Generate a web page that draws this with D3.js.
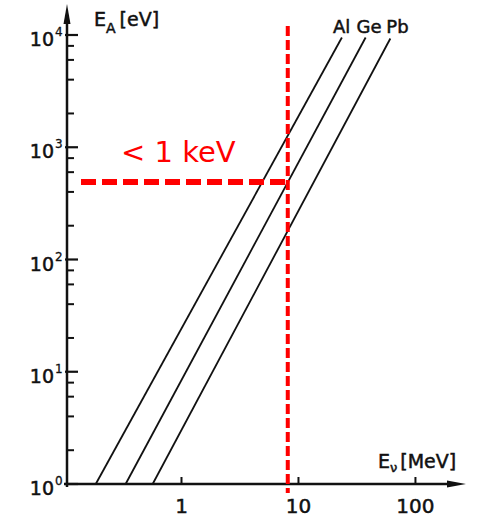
<!DOCTYPE html>
<html>
<head>
<meta charset="utf-8">
<script src="https://cdn.jsdelivr.net/npm/d3@7"></script>
<style>
  body { margin: 0; background: #fff; }
  text { font-family: "DejaVu Sans", sans-serif; fill: #111; }
  .ink { stroke: #111; stroke-width: 0.5; }
</style>
</head>
<body>
<div id="graph"></div>
<script>
// materiais e pontos extremos de cada reta (E_nu em MeV, E_A em eV)
const materials = ["Al", "Ge", "Pb"];
const nuStart = [0.185, 0.333, 0.567];
const nuEnd = [23.5, 37.5, 61];
const recoilStart = [1, 1, 1];
const recoilEnd = [9500, 9500, 9300];

const xTicks = [1, 10, 100];
const xTickLabels = ["1", "10", "100"];
const yTicks = [1, 10, 100, 1000, 10000];
const yTickExp = ["0", "1", "2", "3", "4"];
const yMinor = [2, 4, 6, 8];

// marcação em vermelho
const markNu = 8.1;
const markRecoil = 490;
const markLabel = "< 1 keV";

const width = 477, height = 519;

const svg = d3.select('#graph')
    .append('svg')
    .attr('width', width)
    .attr('height', height);

const x = d3.scaleLog().domain([0.105, 250]).range([67, 462]);
const y = d3.scaleLog().domain([1, 10000]).range([484, 35]);

const axisColor = '#111';

// eixo y com seta
svg.append('line')
    .attr('x1', x(0.105)).attr('y1', y(1) + 3)
    .attr('x2', x(0.105)).attr('y2', 20)
    .attr('stroke', axisColor).attr('stroke-width', 2.5);
svg.append('path')
    .attr('d', `M${x(0.105)},4 L${x(0.105) - 3.5},24 L${x(0.105) + 3.5},24 Z`)
    .attr('fill', axisColor);

// eixo x com seta
svg.append('line')
    .attr('x1', x(0.105) - 3).attr('y1', y(1))
    .attr('x2', 450).attr('y2', y(1))
    .attr('stroke', axisColor).attr('stroke-width', 2.5);
svg.append('path')
    .attr('d', `M466,${y(1)} L447,${y(1) - 3.5} L447,${y(1) + 3.5} Z`)
    .attr('fill', axisColor);

// ticks do eixo y (maiores e menores)
const yMinorVals = [];
yTicks.slice(0, -1).forEach(t => yMinor.forEach(m => yMinorVals.push(t * m)));

svg.append('g')
    .selectAll('line')
    .data(yTicks)
    .join('line')
    .attr('x1', x(0.105) - 2).attr('x2', x(0.105) + 11)
    .attr('y1', d => y(d)).attr('y2', d => y(d))
    .attr('stroke', axisColor).attr('stroke-width', 2.2);

svg.append('g')
    .selectAll('line')
    .data(yMinorVals)
    .join('line')
    .attr('x1', x(0.105)).attr('x2', x(0.105) + 7)
    .attr('y1', d => y(d)).attr('y2', d => y(d))
    .attr('stroke', axisColor).attr('stroke-width', 2);

const yLab = svg.append('g')
    .selectAll('g')
    .data(yTicks)
    .join('g');
yLab.append('text')
    .attr('class', 'ink')
    .attr('x', 54).attr('y', d => y(d) + 11)
    .attr('text-anchor', 'end')
    .attr('font-size', 19)
    .text('10');
yLab.append('text')
    .attr('class', 'ink')
    .attr('x', 55).attr('y', d => y(d) + 1)
    .attr('font-size', 12)
    .style('stroke-width', 0.3)
    .text((d, i) => yTickExp[i]);

// ticks do eixo x
svg.append('g')
    .selectAll('line')
    .data(xTicks)
    .join('line')
    .attr('x1', d => x(d)).attr('x2', d => x(d))
    .attr('y1', y(1)).attr('y2', y(1) - 7)
    .attr('stroke', axisColor).attr('stroke-width', 2);

svg.append('g')
    .selectAll('text')
    .data(xTicks)
    .join('text')
    .attr('class', 'ink')
    .attr('x', d => x(d)).attr('y', 513)
    .attr('text-anchor', 'middle')
    .attr('font-size', 20)
    .text((d, i) => xTickLabels[i]);

// títulos dos eixos
const yTitle = svg.append('text').attr('class', 'ink')
    .attr('x', 94).attr('y', 26).attr('font-size', 19);
yTitle.append('tspan').text('E');
yTitle.append('tspan').attr('font-size', 14).attr('dy', 7).text('A');
yTitle.append('tspan').attr('dy', -7).attr('dx', 4).text('[eV]');

const xTitle = svg.append('text').attr('class', 'ink')
    .attr('x', 378).attr('y', 468).attr('font-size', 19);
xTitle.append('tspan').text('E');
xTitle.append('tspan').attr('font-size', 13).attr('dy', 4).text('ν');
xTitle.append('tspan').attr('dy', -4).attr('dx', 3).text('[MeV]');

// retas de cada material
const lines = materials.map((m, i) => ({
    name: m,
    pts: [[nuStart[i], recoilStart[i]], [nuEnd[i], recoilEnd[i]]]
}));

const lineGen = d3.line().x(d => x(d[0])).y(d => y(d[1]));

svg.append('g')
    .selectAll('path')
    .data(lines)
    .join('path')
    .attr('d', d => lineGen(d.pts))
    .attr('fill', 'none')
    .attr('stroke', '#111')
    .attr('stroke-width', 1.8);

// rótulos no topo das retas (deslocados um pouco à esquerda)
const labelShift = [-9, -9, -4];
svg.append('g')
    .selectAll('text')
    .data(lines)
    .join('text')
    .attr('class', 'ink')
    .attr('x', (d, i) => x(d.pts[1][0]) + labelShift[i])
    .attr('y', 33)
    .attr('font-size', 18)
    .text(d => d.name);

// linhas vermelhas tracejadas
const red = '#ff0000';
svg.append('line')
    .attr('x1', x(markNu)).attr('x2', x(markNu))
    .attr('y1', 26).attr('y2', 493)
    .attr('stroke', red).attr('stroke-width', 4)
    .attr('stroke-dasharray', '10,4');

svg.append('line')
    .attr('x1', 81).attr('x2', x(markNu))
    .attr('y1', y(markRecoil)).attr('y2', y(markRecoil))
    .attr('stroke', red).attr('stroke-width', 6)
    .attr('stroke-dasharray', '15,6');

svg.append('text')
    .attr('x', 121).attr('y', 162)
    .attr('font-family', '"Open Sans", sans-serif')
    .attr('font-size', 29)
    .style('fill', red)
    .text(markLabel);
</script>
</body>
</html>
